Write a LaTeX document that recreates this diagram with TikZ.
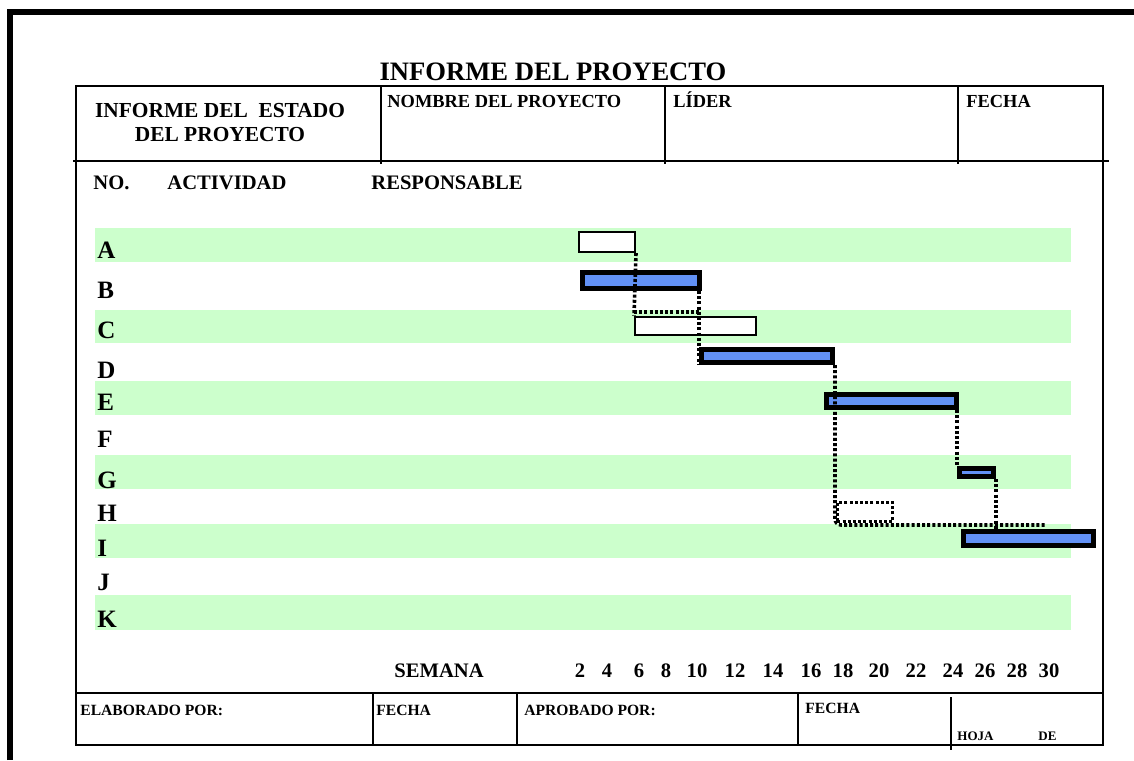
\documentclass[tikz,border=0pt]{standalone}
\usepackage{fontspec}
\setmainfont{Liberation Serif}
\usepackage{tikz}
\definecolor{bandgreen}{RGB}{204,255,204}
\definecolor{barblue}{RGB}{98,145,245}
\tikzset{
    every node/.style={inner sep=0pt, font=\bfseries},
    frameline/.style={line width=2.8pt},
    gridline/.style={line width=1.1pt},
    dotline/.style={line width=1.8pt, dash pattern=on 1.5pt off 1.1pt},
    donebar/.style={draw, line width=2.7pt, fill=barblue},
    openbar/.style={draw, line width=0.9pt, fill=white},
    slackbox/.style={draw, dotline},
    titletxt/.style={anchor=base, font=\bfseries\fontsize{13.3}{15}\selectfont},
    headtxt/.style={anchor=base west, font=\bfseries\fontsize{9.2}{11}\selectfont},
    rowtxt/.style={anchor=base west, font=\bfseries\fontsize{10.3}{12}\selectfont},
    lettertxt/.style={anchor=base west, font=\bfseries\fontsize{12.5}{14}\selectfont},
    foottxt/.style={anchor=base west, font=\bfseries\fontsize{7.8}{9}\selectfont},
    tinytxt/.style={anchor=base west, font=\bfseries\fontsize{6.5}{8}\selectfont}
}

\begin{document}
\begin{tikzpicture}[x=0.5pt, y=-0.5pt]
    \useasboundingbox (0,0) rectangle (1134,760);

    % Outer frame
    \draw[frameline] (10,760) -- (10,12) -- (1134,12);

    % Title
    \node[titletxt] (title) at (553,80) {INFORME DEL PROYECTO};

    % Table lines
    \draw[gridline] (76,86) rectangle (1103,745);
    \draw[gridline] (73,161) -- (1109,161);
    \draw[gridline] (76,693) -- (1103,693);
    \foreach \x in {381,665,958} {
        \draw[gridline] (\x,86) -- (\x,164);
    }
    \foreach \x in {373,517,798} {
        \draw[gridline] (\x,693) -- (\x,745);
    }
    \draw[gridline] (951,697) -- (951,750);

    % Header texts
    \node[anchor=base, align=center, font=\bfseries\fontsize{10.7}{12}\selectfont]
        (state) at (220,141) {INFORME DEL\ \ ESTADO\\DEL PROYECTO};
    \node[headtxt] (name) at (387,107) {NOMBRE DEL PROYECTO};
    \node[headtxt] (leader) at (673,107) {LÍDER};
    \node[headtxt] (date) at (966,107) {FECHA};

    % Column titles
    \node[rowtxt] (no) at (93,189) {NO.};
    \node[rowtxt] (activity) at (167,189) {ACTIVIDAD};
    \node[rowtxt] (owner) at (371,189) {RESPONSABLE};

    % Green bands
    \foreach \t/\b in {228/262, 310/343, 381/415, 455/489, 524/558, 595/630} {
        \fill[bandgreen] (95,\t) rectangle (1071,\b);
    }

    % Activity letters
    \foreach \l/\y in {A/258, B/298, C/338, D/378, E/410, F/447, G/488, H/521, I/556, J/590, K/627} {
        \node[lettertxt] (lbl\l) at (97,\y) {\l};
    }

    % Bars
    \node[openbar, minimum width=28.1pt, minimum height=10.1pt] (barA) at (607,242) {};
    \node[donebar, minimum width=58.3pt, minimum height=7.8pt] (barB) at (641,280.5) {};
    \node[openbar, minimum width=60.6pt, minimum height=9.1pt] (barC) at (695.5,326) {};
    \node[donebar, minimum width=65.3pt, minimum height=6.3pt] (barD) at (767,356) {};
    \node[donebar, minimum width=64.8pt, minimum height=6.3pt] (barE) at (891.5,401) {};
    \node[donebar, minimum width=16.8pt, minimum height=3.8pt] (barG) at (976.5,472.5) {};
    \node[slackbox, minimum width=27.6pt, minimum height=9.6pt] (barH) at (865,512) {};
    \node[donebar, minimum width=64.8pt, minimum height=6.8pt] (barI) at (1028.5,538.5) {};
    \coordinate (slackEnd) at (1046,525);

    % Dependencies
    \draw[dotline] (barA.south east) -- (barC.north west);
    \draw[dotline] ([yshift=2pt]barC.north west) -- ([yshift=2pt]barC.north west -| barD.south west);
    \draw[dotline] (barB.south east -| barD.south west) -- (barD.south west);
    \draw[dotline, rounded corners=3pt] (barD.south east) |- (slackEnd);
    \draw[dotline] (barE.south east -| barG.north west) -- (barG.north west);
    \draw[dotline] (barG.south east) -- (barG.south east |- barI.north);

    % Week scale
    \node[rowtxt] (week) at (394,677) {SEMANA};
    \foreach \n/\x in {2/580, 4/607, 6/639, 8/666, 10/697, 12/735, 14/773, 16/811, 18/843, 20/879, 22/916, 24/953, 26/985, 28/1017, 30/1049} {
        \node[rowtxt, anchor=base] (wk\n) at (\x,677) {\n};
    }

    % Footer texts
    \node[foottxt] (madeby) at (80,715) {ELABORADO POR:};
    \node[foottxt] (madedate) at (376,715) {FECHA};
    \node[foottxt] (approvedby) at (524,715) {APROBADO POR:};
    \node[foottxt] (approveddate) at (805,713) {FECHA};
    \node[tinytxt] (sheet) at (957,740) {HOJA};
    \node[tinytxt] (of) at (1038,740) {DE};
\end{tikzpicture}
\end{document}
